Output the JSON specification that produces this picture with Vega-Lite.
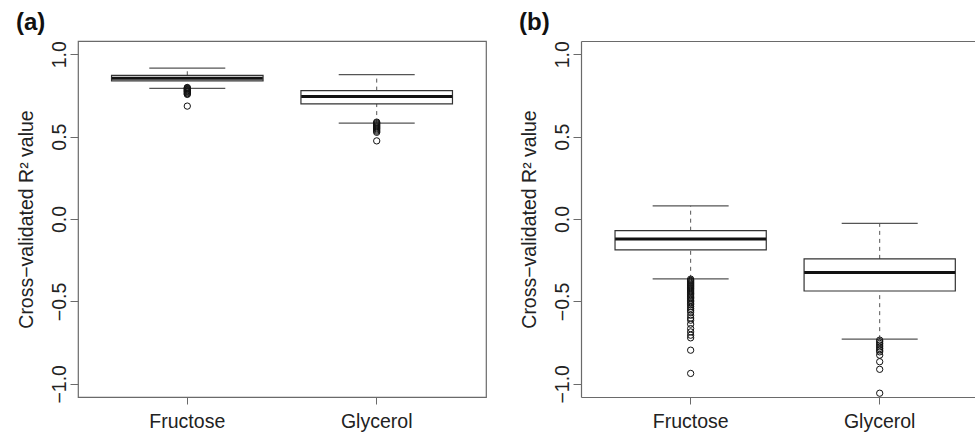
{
  "$schema": "https://vega.github.io/schema/vega-lite/v6.json",
  "background": "white",
  "padding": {"left": 15, "top": 10, "right": 0, "bottom": 0},
  "autosize": {"type": "pad"},
  "config": {
    "font": "Liberation Sans",
    "view": {"stroke": "#6a6a6a", "strokeWidth": 1.2},
    "axis": {"labelFont": "Liberation Sans", "titleFont": "Liberation Sans", "labelColor": "#222", "titleColor": "#222", "tickColor": "#6a6a6a", "domainColor": "#6a6a6a", "grid": false},
    "title": {"font": "Liberation Sans", "fontSize": 24, "fontWeight": "bold", "color": "#111", "anchor": "start", "frame": "bounds", "offset": 6}
  },
  "datasets": {
    "boxes": [
      {"panel": "a", "sugar": "Fructose", "lo": 0.793, "q1": 0.838, "med": 0.854, "q3": 0.872, "hi": 0.915},
      {"panel": "a", "sugar": "Glycerol", "lo": 0.582, "q1": 0.699, "med": 0.744, "q3": 0.779, "hi": 0.876},
      {"panel": "b", "sugar": "Fructose", "lo": -0.363, "q1": -0.187, "med": -0.121, "q3": -0.071, "hi": 0.080},
      {"panel": "b", "sugar": "Glycerol", "lo": -0.729, "q1": -0.437, "med": -0.324, "q3": -0.242, "hi": -0.026}
    ],
    "outliers": [
      {"panel": "a", "sugar": "Fructose", "r2": 0.798},
      {"panel": "a", "sugar": "Fructose", "r2": 0.794},
      {"panel": "a", "sugar": "Fructose", "r2": 0.790},
      {"panel": "a", "sugar": "Fructose", "r2": 0.786},
      {"panel": "a", "sugar": "Fructose", "r2": 0.782},
      {"panel": "a", "sugar": "Fructose", "r2": 0.778},
      {"panel": "a", "sugar": "Fructose", "r2": 0.774},
      {"panel": "a", "sugar": "Fructose", "r2": 0.770},
      {"panel": "a", "sugar": "Fructose", "r2": 0.765},
      {"panel": "a", "sugar": "Fructose", "r2": 0.760},
      {"panel": "a", "sugar": "Fructose", "r2": 0.756},
      {"panel": "a", "sugar": "Fructose", "r2": 0.685},
      {"panel": "a", "sugar": "Glycerol", "r2": 0.588},
      {"panel": "a", "sugar": "Glycerol", "r2": 0.583},
      {"panel": "a", "sugar": "Glycerol", "r2": 0.577},
      {"panel": "a", "sugar": "Glycerol", "r2": 0.571},
      {"panel": "a", "sugar": "Glycerol", "r2": 0.565},
      {"panel": "a", "sugar": "Glycerol", "r2": 0.559},
      {"panel": "a", "sugar": "Glycerol", "r2": 0.553},
      {"panel": "a", "sugar": "Glycerol", "r2": 0.547},
      {"panel": "a", "sugar": "Glycerol", "r2": 0.540},
      {"panel": "a", "sugar": "Glycerol", "r2": 0.533},
      {"panel": "a", "sugar": "Glycerol", "r2": 0.526},
      {"panel": "a", "sugar": "Glycerol", "r2": 0.474},
      {"panel": "b", "sugar": "Fructose", "r2": -0.365},
      {"panel": "b", "sugar": "Fructose", "r2": -0.372},
      {"panel": "b", "sugar": "Fructose", "r2": -0.378},
      {"panel": "b", "sugar": "Fructose", "r2": -0.385},
      {"panel": "b", "sugar": "Fructose", "r2": -0.391},
      {"panel": "b", "sugar": "Fructose", "r2": -0.398},
      {"panel": "b", "sugar": "Fructose", "r2": -0.404},
      {"panel": "b", "sugar": "Fructose", "r2": -0.410},
      {"panel": "b", "sugar": "Fructose", "r2": -0.417},
      {"panel": "b", "sugar": "Fructose", "r2": -0.423},
      {"panel": "b", "sugar": "Fructose", "r2": -0.430},
      {"panel": "b", "sugar": "Fructose", "r2": -0.437},
      {"panel": "b", "sugar": "Fructose", "r2": -0.444},
      {"panel": "b", "sugar": "Fructose", "r2": -0.452},
      {"panel": "b", "sugar": "Fructose", "r2": -0.460},
      {"panel": "b", "sugar": "Fructose", "r2": -0.468},
      {"panel": "b", "sugar": "Fructose", "r2": -0.476},
      {"panel": "b", "sugar": "Fructose", "r2": -0.484},
      {"panel": "b", "sugar": "Fructose", "r2": -0.493},
      {"panel": "b", "sugar": "Fructose", "r2": -0.502},
      {"panel": "b", "sugar": "Fructose", "r2": -0.511},
      {"panel": "b", "sugar": "Fructose", "r2": -0.520},
      {"panel": "b", "sugar": "Fructose", "r2": -0.531},
      {"panel": "b", "sugar": "Fructose", "r2": -0.542},
      {"panel": "b", "sugar": "Fructose", "r2": -0.553},
      {"panel": "b", "sugar": "Fructose", "r2": -0.565},
      {"panel": "b", "sugar": "Fructose", "r2": -0.584},
      {"panel": "b", "sugar": "Fructose", "r2": -0.601},
      {"panel": "b", "sugar": "Fructose", "r2": -0.614},
      {"panel": "b", "sugar": "Fructose", "r2": -0.638},
      {"panel": "b", "sugar": "Fructose", "r2": -0.665},
      {"panel": "b", "sugar": "Fructose", "r2": -0.685},
      {"panel": "b", "sugar": "Fructose", "r2": -0.705},
      {"panel": "b", "sugar": "Fructose", "r2": -0.721},
      {"panel": "b", "sugar": "Fructose", "r2": -0.796},
      {"panel": "b", "sugar": "Fructose", "r2": -0.937},
      {"panel": "b", "sugar": "Glycerol", "r2": -0.735},
      {"panel": "b", "sugar": "Glycerol", "r2": -0.745},
      {"panel": "b", "sugar": "Glycerol", "r2": -0.755},
      {"panel": "b", "sugar": "Glycerol", "r2": -0.765},
      {"panel": "b", "sugar": "Glycerol", "r2": -0.776},
      {"panel": "b", "sugar": "Glycerol", "r2": -0.786},
      {"panel": "b", "sugar": "Glycerol", "r2": -0.796},
      {"panel": "b", "sugar": "Glycerol", "r2": -0.806},
      {"panel": "b", "sugar": "Glycerol", "r2": -0.826},
      {"panel": "b", "sugar": "Glycerol", "r2": -0.866},
      {"panel": "b", "sugar": "Glycerol", "r2": -0.912},
      {"panel": "b", "sugar": "Glycerol", "r2": -1.057}
    ]
  },
  "bounds": "flush",
  "spacing": 95,
  "hconcat": [
    {
      "width": 408,
      "height": 356,
      "title": {"text": "(a)"},
      "encoding": {
        "x": {"field": "sugar", "type": "nominal", "scale": {"type": "band", "domain": ["Fructose", "Glycerol"], "paddingInner": 0.2, "paddingOuter": 0.177},
          "axis": {"title": null, "domain": false, "ticks": true, "tickSize": 7, "labelAngle": 0, "labelFontSize": 19.5, "labelBaseline": "alphabetic", "labelPadding": 23}}
      },
      "layer": [
        {
          "mark": {"type": "rule", "stroke": "#aaaaaa", "strokeDash": [2, 2], "strokeWidth": 1},
          "encoding": {"y": {"datum": 0, "type": "quantitative", "scale": {"domain": [-1.08, 1.08], "nice": false, "zero": false},
            "axis": {"values": [-1, -0.5, 0, 0.5, 1], "format": ".1f", "domain": false, "tickSize": 8, "labelAngle": 270, "labelAlign": "center", "labelBaseline": "alphabetic", "labelPadding": 5, "labelFontSize": 19.5,
              "title": "Cross−validated  R² value", "titleFontSize": 19.5, "titleFontWeight": "normal", "titleX": -46, "titleBaseline": "alphabetic"}},
            "x": null}
        },
        {
          "data": {"name": "boxes"},
          "transform": [{"filter": "datum.panel == 'a'"}],
          "layer": [
            {"mark": {"type": "rule", "stroke": "#555", "strokeDash": [4, 4], "strokeWidth": 1}, "encoding": {"y": {"field": "q3", "type": "quantitative"}, "y2": {"field": "hi"}}},
            {"mark": {"type": "rule", "stroke": "#555", "strokeDash": [4, 4], "strokeWidth": 1}, "encoding": {"y": {"field": "lo", "type": "quantitative"}, "y2": {"field": "q1"}}},
            {"mark": {"type": "tick", "color": "#555", "size": 76, "thickness": 1.2, "opacity": 1}, "encoding": {"y": {"field": "hi", "type": "quantitative"}}},
            {"mark": {"type": "tick", "color": "#555", "size": 76, "thickness": 1.2, "opacity": 1}, "encoding": {"y": {"field": "lo", "type": "quantitative"}}},
            {"mark": {"type": "bar", "fill": "white", "stroke": "#333", "strokeWidth": 1.2}, "encoding": {"y": {"field": "q1", "type": "quantitative"}, "y2": {"field": "q3"}}},
            {"mark": {"type": "tick", "color": "#111", "size": 151, "thickness": 3, "opacity": 1}, "encoding": {"y": {"field": "med", "type": "quantitative"}}}
          ]
        },
        {
          "data": {"name": "outliers"},
          "transform": [{"filter": "datum.panel == 'a'"}],
          "mark": {"type": "point", "shape": "circle", "filled": false, "size": 40, "stroke": "#111", "strokeWidth": 1, "opacity": 1},
          "encoding": {"y": {"field": "r2", "type": "quantitative"}}
        }
      ]
    },
    {
      "width": 397,
      "height": 356,
      "view": {"stroke": null},
      "title": {"text": "(b)"},
      "resolve": {"axis": {"x": "independent"}},
      "layer": [
        {
          "mark": {"type": "rule", "stroke": "#aaaaaa", "strokeDash": [2, 2], "strokeWidth": 1},
          "encoding": {"y": {"datum": 0, "type": "quantitative", "scale": {"domain": [-1.08, 1.08], "nice": false, "zero": false},
            "axis": {"values": [-1, -0.5, 0, 0.5, 1], "format": ".1f", "domain": true, "domainWidth": 1.2, "tickSize": 8, "labelAngle": 270, "labelAlign": "center", "labelBaseline": "alphabetic", "labelPadding": 5, "labelFontSize": 19.5,
              "title": "Cross−validated  R² value", "titleFontSize": 19.5, "titleFontWeight": "normal", "titleX": -46, "titleBaseline": "alphabetic"}}}
        },
        {
          "data": {"name": "boxes"},
          "transform": [{"filter": "datum.panel == 'b'"}],
          "encoding": {
            "x": {"field": "sugar", "type": "nominal", "scale": {"type": "band", "domain": ["Fructose", "Glycerol"], "paddingInner": 0.2, "paddingOuter": 0.15, "align": 0.6},
              "axis": {"title": null, "domain": true, "domainWidth": 1.2, "ticks": true, "tickSize": 7, "labelAngle": 0, "labelFontSize": 19.5, "labelBaseline": "alphabetic", "labelPadding": 23}}
          },
          "layer": [
            {"mark": {"type": "rule", "stroke": "#555", "strokeDash": [4, 4], "strokeWidth": 1}, "encoding": {"y": {"field": "q3", "type": "quantitative"}, "y2": {"field": "hi"}}},
            {"mark": {"type": "rule", "stroke": "#555", "strokeDash": [4, 4], "strokeWidth": 1}, "encoding": {"y": {"field": "lo", "type": "quantitative"}, "y2": {"field": "q1"}}},
            {"mark": {"type": "tick", "color": "#555", "size": 76, "thickness": 1.2, "opacity": 1}, "encoding": {"y": {"field": "hi", "type": "quantitative"}}},
            {"mark": {"type": "tick", "color": "#555", "size": 76, "thickness": 1.2, "opacity": 1}, "encoding": {"y": {"field": "lo", "type": "quantitative"}}},
            {"mark": {"type": "bar", "fill": "white", "stroke": "#333", "strokeWidth": 1.2}, "encoding": {"y": {"field": "q1", "type": "quantitative"}, "y2": {"field": "q3"}}},
            {"mark": {"type": "tick", "color": "#111", "size": 151, "thickness": 3, "opacity": 1}, "encoding": {"y": {"field": "med", "type": "quantitative"}}}
          ]
        },
        {
          "data": {"name": "outliers"},
          "transform": [{"filter": "datum.panel == 'b'"}],
          "mark": {"type": "point", "shape": "circle", "filled": false, "size": 40, "stroke": "#111", "strokeWidth": 1, "opacity": 1},
          "encoding": {
            "x": {"field": "sugar", "type": "nominal", "scale": {"type": "band", "domain": ["Fructose", "Glycerol"], "paddingInner": 0.2, "paddingOuter": 0.15, "align": 0.6}, "axis": null},
            "y": {"field": "r2", "type": "quantitative"}
          }
        },
        {
          "data": {"name": "boxes"},
          "transform": [{"filter": "datum.panel == 'b'"}],
          "mark": {"type": "point", "opacity": 0},
          "encoding": {
            "x": {"field": "sugar", "type": "nominal", "scale": {"type": "band", "domain": ["Fructose", "Glycerol"], "paddingInner": 0.2, "paddingOuter": 0.15, "align": 0.6},
              "axis": {"orient": "top", "title": null, "labels": false, "ticks": false, "domain": true, "domainWidth": 1.2}},
            "y": {"field": "med", "type": "quantitative"}
          }
        }
      ]
    }
  ]
}
